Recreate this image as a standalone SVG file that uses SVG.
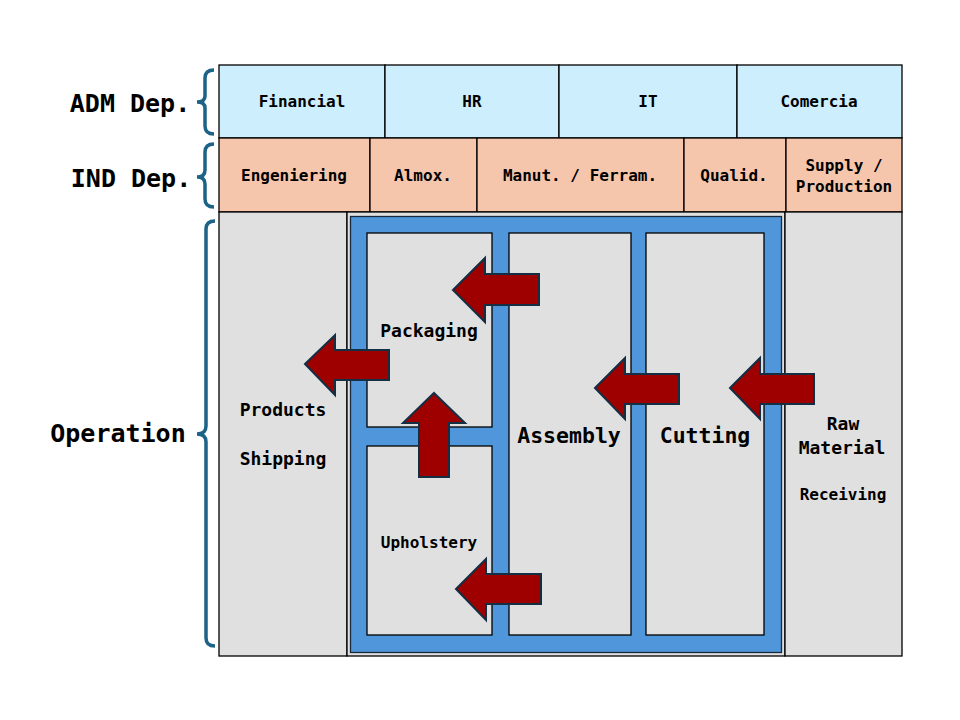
<svg xmlns="http://www.w3.org/2000/svg" width="960" height="720" viewBox="0 0 960 720">
<style>
text{font-family:"DejaVu Sans Mono","Liberation Mono",monospace;font-weight:bold;fill:#000;text-anchor:middle}
.adm{fill:#CDEEFC;stroke:#000;stroke-width:1.3}
.ind{fill:#F6C6AC;stroke:#000;stroke-width:1.3}
.op{fill:#E0E0E0;stroke:#000;stroke-width:1.3}
.blue{fill:#5096DA;stroke:#1A2A3A;stroke-width:1.3}
.br{fill:none;stroke:#1D6387;stroke-width:3.5;stroke-linecap:butt}
.arr{fill:#9E0000;stroke:#142E44;stroke-width:2;stroke-linejoin:miter}
.s16{font-size:16px}.s18{font-size:18px}.s22{font-size:21.5px}.s25{font-size:25px}
</style>
<rect width="960" height="720" fill="#fff"/>
<g id="labels">
<g id="adm-label"><path class="br" d="M214,70 Q205,70 205,78 L205,96 Q205,102 197,102 Q205,102 205,108 L205,126 Q205,134 214,134"/><text class="s25" x="130" y="112">ADM Dep.</text></g>
<g id="ind-label"><path class="br" d="M214,144 Q205,144 205,152 L205,170 Q205,177 197,177 Q205,177 205,184 L205,199 Q205,207 214,207"/><text class="s25" x="131" y="187">IND Dep.</text></g>
<g id="op-label"><path class="br" d="M215,221 Q206,221 206,229 L206,426 Q206,434 197,434 Q206,434 206,442 L206,638 Q206,646 215,646"/><text class="s25" x="118" y="442">Operation</text></g>
</g>
<g id="adm-row">
<g id="financial"><rect class="adm" x="219" y="65" width="166" height="73"/><text class="s16" x="302" y="107">Financial</text></g>
<g id="hr"><rect class="adm" x="385" y="65" width="174" height="73"/><text class="s16" x="472" y="107">HR</text></g>
<g id="it"><rect class="adm" x="559" y="65" width="178" height="73"/><text class="s16" x="648" y="107">IT</text></g>
<g id="comercia"><rect class="adm" x="737" y="65" width="165" height="73"/><text class="s16" x="819" y="107">Comercia</text></g>
</g>
<g id="ind-row">
<g id="engeniering"><rect class="ind" x="219" y="138" width="151" height="74"/><text class="s16" x="294" y="181">Engeniering</text></g>
<g id="almox"><rect class="ind" x="370" y="138" width="107" height="74"/><text class="s16" x="423" y="181">Almox.</text></g>
<g id="manut"><rect class="ind" x="477" y="138" width="207" height="74"/><text class="s16" x="580" y="181">Manut. / Ferram.</text></g>
<g id="qualid"><rect class="ind" x="684" y="138" width="102" height="74"/><text class="s16" x="734" y="181">Qualid.</text></g>
<g id="supply"><rect class="ind" x="786" y="138" width="116" height="74"/><text class="s16" x="844" y="171">Supply /</text><text class="s16" x="844" y="192">Production</text></g>
</g>
<g id="operation">
<g id="shipping"><rect class="op" x="219" y="212" width="128" height="444"/><text class="s18" x="283" y="416">Products</text><text class="s18" x="283" y="465">Shipping</text></g>
<g id="factory"><rect class="op" x="347" y="212" width="438" height="444"/><rect class="blue" x="350.5" y="216.5" width="431" height="436"/></g>
<g id="receiving"><rect class="op" x="785" y="212" width="117" height="444"/><text class="s18" x="843" y="430">Raw</text><text class="s18" x="842" y="454">Material</text><text class="s16" x="843" y="500">Receiving</text></g>
<g id="packaging"><rect class="op" x="367" y="233" width="125" height="194"/><text class="s18" x="429" y="337">Packaging</text></g>
<g id="upholstery"><rect class="op" x="367" y="446" width="125" height="189"/><text class="s16" x="429" y="548">Upholstery</text></g>
<g id="assembly"><rect class="op" x="509" y="233" width="122" height="402"/><text class="s22" x="569" y="443">Assembly</text></g>
<g id="cutting"><rect class="op" x="646" y="233" width="118" height="402"/><text class="s22" x="705" y="443">Cutting</text></g>
</g>
<g id="connectors">
<polygon class="arr" points="453,290 485,258 485,274 539,274 539,305 485,305 485,322"/>
<polygon class="arr" points="305,364 335,335 335,350 389,350 389,380 335,380 335,395"/>
<polygon class="arr" points="434,393 465,423 449,423 449,477 419,477 419,423 403,423"/>
<polygon class="arr" points="595,388 625,358 625,374 679,374 679,404 625,404 625,419"/>
<polygon class="arr" points="730,388 760,358 760,374 814,374 814,404 760,404 760,419"/>
<polygon class="arr" points="456,589 486,559 486,574 541,574 541,604 486,604 486,620"/>
</g>
</svg>
